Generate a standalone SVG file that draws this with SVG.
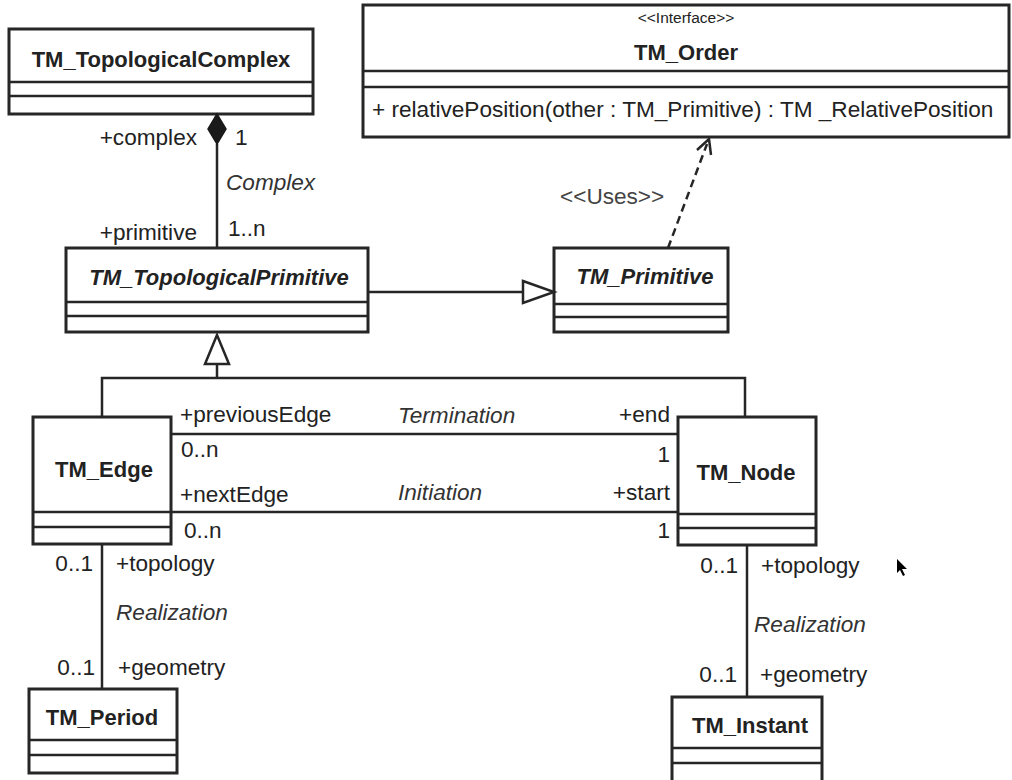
<svg xmlns="http://www.w3.org/2000/svg" width="1012" height="780" viewBox="0 0 1012 780">
  <style>
    .box { fill: #ffffff; stroke: #262626; stroke-width: 3; }
    .sep { stroke: #262626; stroke-width: 2.5; fill: none; }
    .ln { stroke: #262626; stroke-width: 2.5; fill: none; }
    .dash { stroke: #262626; stroke-width: 2.5; fill: none; stroke-dasharray: 8 5; }
    text { font-family: "Liberation Sans", Arial, sans-serif; font-size: 22.6px; fill: #222222; }
    .title { font-size: 22px; font-weight: bold; text-anchor: middle; }
    .abstract { font-size: 22px; font-weight: bold; font-style: italic; text-anchor: middle; }
    .assoc { font-style: italic; fill: #333333; }
    .end { text-anchor: end; }
    .stereo { font-size: 15.5px; text-anchor: middle; }
    .uses { fill: #444444; }
  </style>

  <rect width="1012" height="780" fill="#ffffff"/>

  <!-- classes -->
  <g id="TM_TopologicalComplex">
    <rect class="box" x="9" y="29" width="304" height="85"/>
    <line class="sep" x1="9" y1="82" x2="313" y2="82"/>
    <line class="sep" x1="9" y1="96" x2="313" y2="96"/>
    <text class="title" x="161" y="67">TM_TopologicalComplex</text>
  </g>

  <g id="TM_Order">
    <rect class="box" x="363" y="5" width="646" height="132"/>
    <line class="sep" x1="363" y1="71" x2="1009" y2="71"/>
    <line class="sep" x1="363" y1="87" x2="1009" y2="87"/>
    <text class="stereo" x="686" y="23">&lt;&lt;Interface&gt;&gt;</text>
    <text class="title" x="686" y="60">TM_Order</text>
    <text x="372" y="117">+ relativePosition(other : TM_Primitive) : TM _RelativePosition</text>
  </g>

  <g id="TM_TopologicalPrimitive">
    <rect class="box" x="66" y="248" width="302" height="84"/>
    <line class="sep" x1="66" y1="302" x2="368" y2="302"/>
    <line class="sep" x1="66" y1="316" x2="368" y2="316"/>
    <text class="abstract" x="219" y="285">TM_TopologicalPrimitive</text>
  </g>

  <g id="TM_Primitive">
    <rect class="box" x="554" y="248" width="174" height="84"/>
    <line class="sep" x1="554" y1="304" x2="728" y2="304"/>
    <line class="sep" x1="554" y1="317" x2="728" y2="317"/>
    <text class="abstract" x="645" y="284">TM_Primitive</text>
  </g>

  <g id="TM_Edge">
    <rect class="box" x="33" y="417" width="138" height="127"/>
    <line class="sep" x1="33" y1="512" x2="171" y2="512"/>
    <line class="sep" x1="33" y1="527" x2="171" y2="527"/>
    <text class="title" x="104" y="477">TM_Edge</text>
  </g>

  <g id="TM_Node">
    <rect class="box" x="678" y="417" width="138" height="128"/>
    <line class="sep" x1="678" y1="514" x2="816" y2="514"/>
    <line class="sep" x1="678" y1="528" x2="816" y2="528"/>
    <text class="title" x="746" y="480">TM_Node</text>
  </g>

  <g id="TM_Period">
    <rect class="box" x="29" y="689" width="148" height="84"/>
    <line class="sep" x1="29" y1="740" x2="177" y2="740"/>
    <line class="sep" x1="29" y1="755" x2="177" y2="755"/>
    <text class="title" x="102" y="725">TM_Period</text>
  </g>

  <g id="TM_Instant">
    <rect class="box" x="672" y="697" width="150" height="100"/>
    <line class="sep" x1="672" y1="748" x2="822" y2="748"/>
    <line class="sep" x1="672" y1="763" x2="822" y2="763"/>
    <text class="title" x="750" y="733">TM_Instant</text>
  </g>

  <!-- connectors -->
  <g id="connectors">
    <!-- Complex composition -->
    <line class="ln" x1="217" y1="144" x2="217" y2="248"/>
    <polygon points="217,114 208,129 217,144 226,129" fill="#1a1a1a" stroke="#1a1a1a" stroke-width="1.5"/>

    <!-- TM_TopologicalPrimitive generalizes to TM_Primitive -->
    <line class="ln" x1="368" y1="292" x2="523" y2="292"/>
    <polygon class="ln" points="523,281 554,292 523,303" fill="#ffffff"/>

    <!-- <<Uses>> dependency -->
    <line class="dash" x1="668" y1="248" x2="707" y2="144"/>
    <polyline class="ln" points="697,150 709,139 711,155"/>

    <!-- TM_Edge / TM_Node generalize to TM_TopologicalPrimitive -->
    <polyline class="ln" points="102,417 102,378 745,378 745,417"/>
    <line class="ln" x1="217" y1="378" x2="217" y2="364"/>
    <polygon class="ln" points="217,335 205,364 229,364" fill="#ffffff"/>

    <!-- Termination and Initiation -->
    <line class="ln" x1="171" y1="434" x2="678" y2="434"/>
    <line class="ln" x1="171" y1="512" x2="678" y2="512"/>

    <!-- Realization links -->
    <line class="ln" x1="102" y1="544" x2="102" y2="689"/>
    <line class="ln" x1="747" y1="545" x2="747" y2="697"/>
  </g>

  <!-- association labels -->
  <g id="labels">
    <text class="end" x="197" y="145">+complex</text>
    <text x="235" y="145">1</text>
    <text class="assoc" x="226" y="190">Complex</text>
    <text class="end" x="197" y="240">+primitive</text>
    <text x="228" y="236">1..n</text>

    <text class="uses" x="560" y="204">&lt;&lt;Uses&gt;&gt;</text>

    <text x="180" y="422">+previousEdge</text>
    <text x="181" y="457">0..n</text>
    <text x="180" y="502">+nextEdge</text>
    <text x="184" y="538">0..n</text>
    <text class="assoc" x="398" y="423">Termination</text>
    <text class="assoc" x="398" y="500">Initiation</text>
    <text class="end" x="670" y="422">+end</text>
    <text class="end" x="670" y="462">1</text>
    <text class="end" x="670" y="500">+start</text>
    <text class="end" x="670" y="538">1</text>

    <text class="end" x="93" y="571">0..1</text>
    <text x="116" y="571">+topology</text>
    <text class="assoc" x="116" y="620">Realization</text>
    <text class="end" x="95" y="675">0..1</text>
    <text x="118" y="675">+geometry</text>

    <text class="end" x="738" y="573">0..1</text>
    <text x="761" y="573">+topology</text>
    <text class="assoc" x="754" y="632">Realization</text>
    <text class="end" x="737" y="682">0..1</text>
    <text x="760" y="682">+geometry</text>
  </g>

  <!-- pointer -->
  <polygon points="897,559 897,573 900,570 903,576 905,575 902,569 907,569" fill="#000000"/>
</svg>
